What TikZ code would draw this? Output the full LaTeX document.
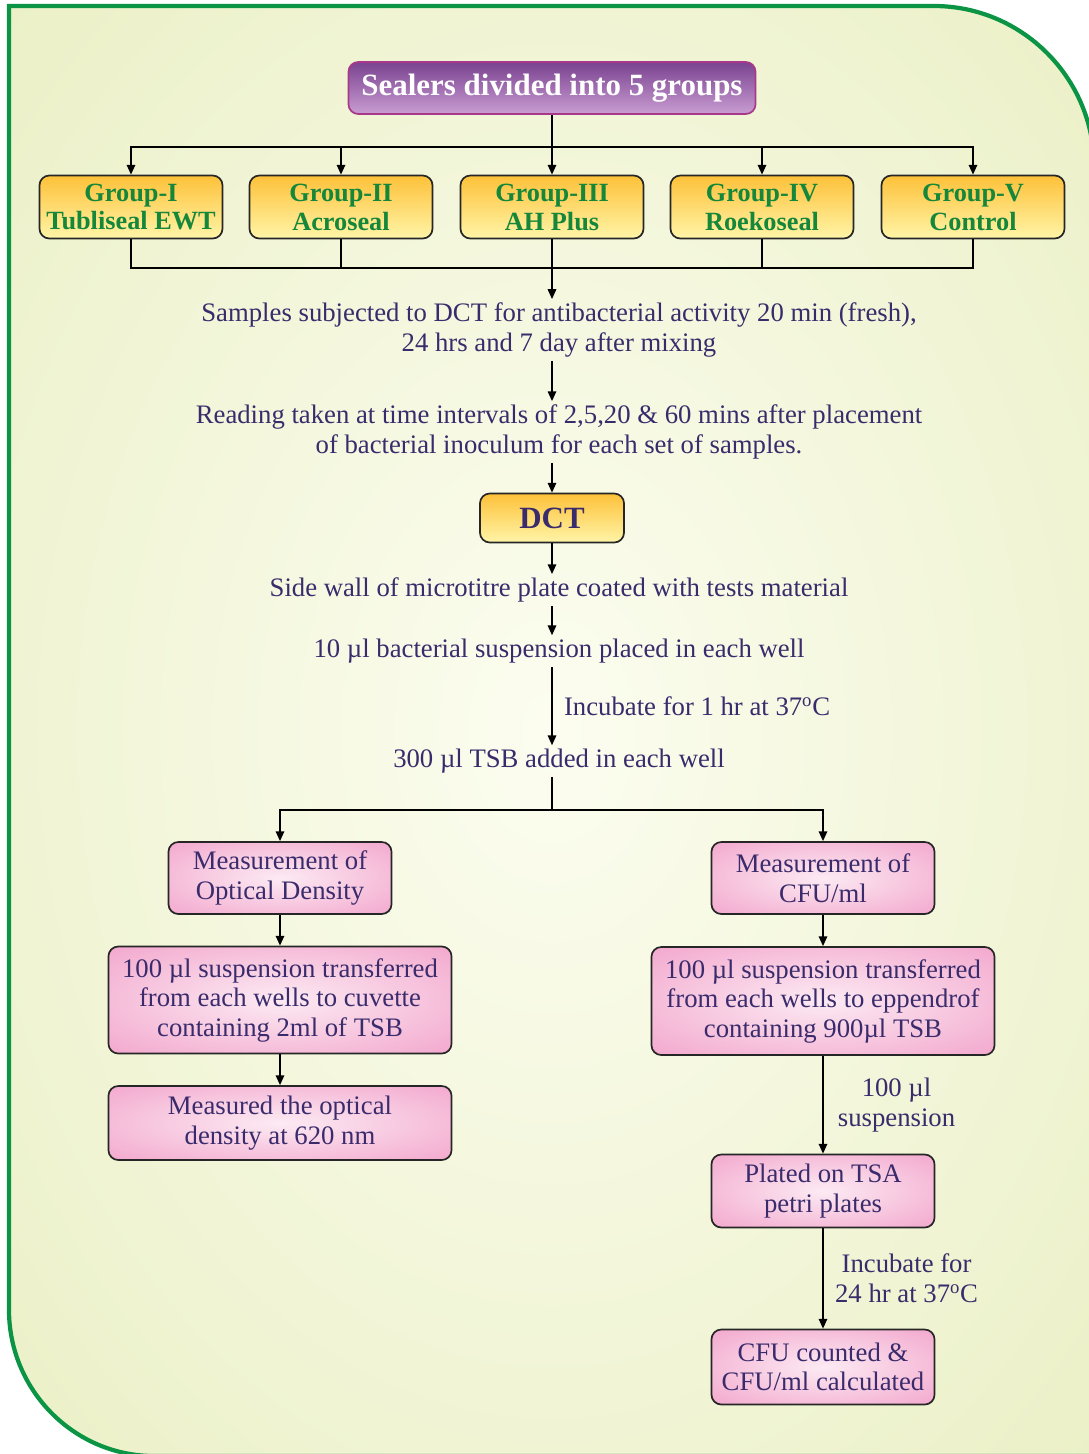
\documentclass[tikz,border=0pt]{standalone}
\usepackage{fontspec}
\setmainfont{Liberation Serif}
\usetikzlibrary{arrows.meta}
\definecolor{frameline}{HTML}{0B9444}
\definecolor{bgIn}{HTML}{FCFDF0}
\definecolor{bgOut}{HTML}{E4EBB6}
\definecolor{ink}{HTML}{3A2B6C}
\definecolor{grpText}{HTML}{15873A}
\definecolor{grpTop}{HTML}{FDC139}
\definecolor{grpBot}{HTML}{FFF5A8}
\definecolor{pinkIn}{HTML}{FCEAF3}
\definecolor{pinkOut}{HTML}{EF8DBE}
\definecolor{purTop}{HTML}{7A4290}
\definecolor{purBot}{HTML}{C99DD2}
\definecolor{purLine}{HTML}{A8398A}
\pgfdeclareradialshading{bgglow}{\pgfpoint{0bp}{0bp}}{color(0bp)=(bgIn); color(50bp)=(bgOut); color(72bp)=(bgOut)}
\pgfdeclareradialshading{pinkglow}{\pgfpoint{0bp}{0bp}}{color(0bp)=(pinkIn); color(50bp)=(pinkOut); color(72bp)=(pinkOut)}
\begin{document}
\begin{tikzpicture}[x=0.025cm,y=-0.025cm,line width=1.2pt,
  box/.style={draw=black!85,rounded corners=7pt,align=center,inner sep=0pt,text=ink},
  grp/.style={box,minimum width=4.575cm,minimum height=1.575cm,top color=grpTop,bottom color=grpBot,text=grpText,font=\bfseries\fontsize{18.7}{20.6}\selectfont},
  pk/.style={box,shade,shading=pinkglow,font=\fontsize{19}{21}\selectfont},
  txt/.style={align=center,text=ink,inner sep=2pt,font=\fontsize{19}{21.3}\selectfont},
  arr/.style={-{Triangle[length=7pt,width=6pt]}}]
\useasboundingbox (0,0) rectangle (1089,1454);
\clip (0,0) rectangle (1089,1454);
\fill[white] (0,0) rectangle (1089,1454);
\shade[draw=frameline,line width=3pt,shading=bgglow] (1094,1456) -- (1094,166) .. controls (1094,78) and (1022,6) .. (934,6) -- (9,6) -- (9,1310) .. controls (9,1390) and (74,1456) .. (154,1456) -- cycle;

\node[box,minimum width=10.175cm,minimum height=1.3cm,top color=purTop,bottom color=purBot,draw=purLine,text=white,font=\bfseries\fontsize{22}{24}\selectfont] (seal) at (552,88) {Sealers divided into 5 groups};
\node[grp] (g1) at (131,207) {Group-I\\Tubliseal EWT};
\node[grp] (g2) at (341,207) {Group-II\\Acroseal};
\node[grp] (g3) at (552,207) {Group-III\\AH Plus};
\node[grp] (g4) at (762,207) {Group-IV\\Roekoseal};
\node[grp] (g5) at (973,207) {Group-V\\Control};
\coordinate (up) at (552,147);
\coordinate (down) at (552,268);
\draw (seal) -- (up);
\foreach \g in {g1,g2,g3,g4,g5} {
  \draw[arr] (up) -| (\g);
  \draw (\g) |- (down);
}

\node[txt] (t1) at (559,330) {Samples subjected to DCT for antibacterial activity 20 min (fresh),\\24 hrs and 7 day after mixing};
\node[txt] (t2) at (559,432) {Reading taken at time intervals of 2,5,20 \& 60 mins after placement\\of bacterial inoculum for each set of samples.};
\node[box,minimum width=3.6cm,minimum height=1.225cm,top color=grpTop,bottom color=grpBot,font=\bfseries\fontsize{22}{24}\selectfont] (dct) at (552,518) {DCT};
\node[txt] (t3) at (559,590) {Side wall of microtitre plate coated with tests material};
\node[txt] (t4) at (559,651) {10 µl bacterial suspension placed in each well};
\node[txt] (t5) at (559,761) {300 µl TSB added in each well};
\draw[arr] (down) -- (down |- t1.north);
\draw[arr] (t1.south -| down) -- (t2.north -| down);
\draw[arr] (t2.south -| dct) -- (dct);
\draw[arr] (dct) -- (dct |- t3.north);
\draw[arr] (t3.south -| dct) -- (t4.north -| dct);
\draw[arr] (t4.south -| dct) -- node[txt,right=6pt] {Incubate for 1 hr at 37\textsuperscript{o}C} (t5.north -| dct);

\coordinate (split) at (552,810);
\node[pk,minimum width=5.575cm,minimum height=1.8cm] (od) at (280,878) {Measurement of\\Optical Density};
\node[pk,minimum width=8.575cm,minimum height=2.675cm] (cuv) at (280,1000) {100 µl suspension transferred\\from each wells to cuvette\\containing 2ml of TSB};
\node[pk,minimum width=8.575cm,minimum height=1.85cm] (nm) at (280,1123) {Measured the optical\\density at 620 nm};
\node[pk,minimum width=5.575cm,minimum height=1.8cm] (cfu) at (823,878) {Measurement of\\CFU/ml};
\node[pk,minimum width=8.575cm,minimum height=2.7cm] (epp) at (823,1001) {100 µl suspension transferred\\from each wells to eppendrof\\containing 900µl TSB};
\node[pk,minimum width=5.575cm,minimum height=1.825cm] (tsa) at (823,1191) {Plated on TSA\\petri plates};
\node[pk,minimum width=5.575cm,minimum height=1.875cm] (cnt) at (823,1367) {CFU counted \&\\CFU/ml calculated};
\draw (t5.south -| dct) -- (split);
\draw[arr] (split) -| (od);
\draw[arr] (split) -| (cfu);
\draw[arr] (od) -- (cuv);
\draw[arr] (cuv) -- (nm);
\draw[arr] (cfu) -- (epp);
\draw[arr] (epp) -- node[txt,right=8pt] {100 µl\\suspension} (tsa);
\draw[arr] (tsa) -- node[txt,right=6pt] {Incubate for\\24 hr at 37\textsuperscript{o}C} (cnt);
\end{tikzpicture}
\end{document}
